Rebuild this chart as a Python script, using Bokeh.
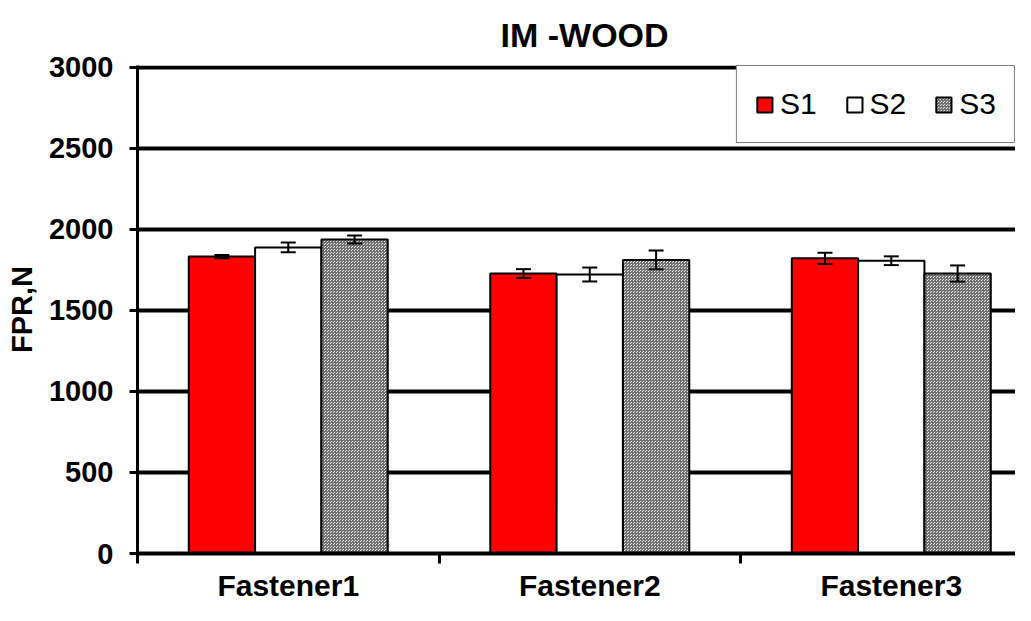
from bokeh.plotting import figure
from bokeh.models import ColumnDataSource, Range1d, FixedTicker, Whisker, TeeHead, Legend, LegendItem
from bokeh.embed import file_html
from bokeh.resources import INLINE

categories = ["Fastener1", "Fastener2", "Fastener3"]
series = ["S1", "S2", "S3"]
s1 = [1833, 1728, 1822]
s2 = [1889, 1722, 1807]
s3 = [1938, 1812, 1728]
e1 = [10, 27, 35]
e2 = [30, 43, 27]
e3 = [25, 58, 50]
y_ticks = [0, 500, 1000, 1500, 2000, 2500, 3000]

FONT = "Liberation Sans"

p = figure(width=1015, height=605, output_backend="svg", toolbar_location=None,
           x_range=Range1d(0, 2.912), y_range=Range1d(0, 3012),
           min_border_left=137, min_border_top=65, min_border_bottom=52, min_border_right=0)
p.title.text = "IM -WOOD"
p.title.align = "left"
p.title.text_font = FONT
p.title.text_font_size = "34px"
p.title.text_font_style = "bold"
p.title.text_color = "black"
p.title.offset = 363
p.title.standoff = 24
p.outline_line_color = None

bar_w = 0.22
offsets = [-bar_w, 0, bar_w]
styles = [
    dict(fill_color="#ff0000"),
    dict(fill_color="#ffffff"),
    dict(fill_color="#e6e6e6", hatch_pattern="criss_cross", hatch_color="#707070", hatch_scale=3, hatch_weight=1),
]
items = []
for k, (vals, errs) in enumerate([(s1, e1), (s2, e2), (s3, e3)]):
    xs = [i + 0.5 + offsets[k] for i in range(len(categories))]
    src = ColumnDataSource(dict(x=xs, top=vals,
                                upper=[v + e for v, e in zip(vals, errs)],
                                lower=[v - e for v, e in zip(vals, errs)]))
    r = p.vbar(x="x", top="top", width=bar_w, source=src, line_color="black", line_width=2, **styles[k])
    items.append(LegendItem(label=series[k], renderers=[r]))
    w = Whisker(base="x", upper="upper", lower="lower", source=src, line_color="black", line_width=2,
                level="overlay",
                upper_head=TeeHead(size=15, line_width=2, line_color="black"),
                lower_head=TeeHead(size=15, line_width=2, line_color="black"))
    p.add_layout(w)

legend = Legend(items=items, orientation="horizontal", location="top_right",
                label_text_font=FONT, label_text_font_size="30px", label_text_color="black",
                glyph_width=19, glyph_height=19, label_height=40, padding=18, spacing=28,
                label_standoff=6, margin=0, border_line_color="black", border_line_width=1,
                background_fill_color="white", background_fill_alpha=1)
p.add_layout(legend, "center")

# grid
p.xgrid.grid_line_color = None
p.ygrid.grid_line_color = "black"
p.ygrid.grid_line_width = 4
p.ygrid.ticker = FixedTicker(ticks=y_ticks)

# y axis
p.yaxis.ticker = FixedTicker(ticks=y_ticks)
p.yaxis.axis_line_width = 3
p.yaxis.major_tick_line_width = 3
p.yaxis.major_tick_out = 8
p.yaxis.major_tick_in = 0
p.yaxis.minor_tick_line_color = None
p.yaxis.major_label_text_font = FONT
p.yaxis.major_label_text_font_size = "29px"
p.yaxis.major_label_text_font_style = "bold"
p.yaxis.major_label_text_color = "black"
p.yaxis.major_label_standoff = 16
p.yaxis.axis_label = "FPR,N"
p.yaxis.axis_label_text_font = FONT
p.yaxis.axis_label_text_font_size = "29px"
p.yaxis.axis_label_text_font_style = "bold"
p.yaxis.axis_label_text_color = "black"
p.yaxis.axis_label_standoff = 8

# x axis
p.xaxis.ticker = FixedTicker(ticks=[0.5, 1.5, 2.5], minor_ticks=[0, 1, 2, 3])
p.xaxis.major_label_overrides = {0.5: categories[0], 1.5: categories[1], 2.5: categories[2]}
p.xaxis.axis_line_width = 4
p.xaxis.major_tick_line_color = None
p.xaxis.major_tick_out = 0
p.xaxis.major_tick_in = 0
p.xaxis.minor_tick_line_color = "black"
p.xaxis.minor_tick_line_width = 3
p.xaxis.minor_tick_out = 10
p.xaxis.minor_tick_in = 0
p.xaxis.major_label_text_font = FONT
p.xaxis.major_label_text_font_size = "30px"
p.xaxis.major_label_text_font_style = "bold"
p.xaxis.major_label_text_color = "black"
p.xaxis.major_label_standoff = 5

open("out.html", "w").write(file_html(p, INLINE))
